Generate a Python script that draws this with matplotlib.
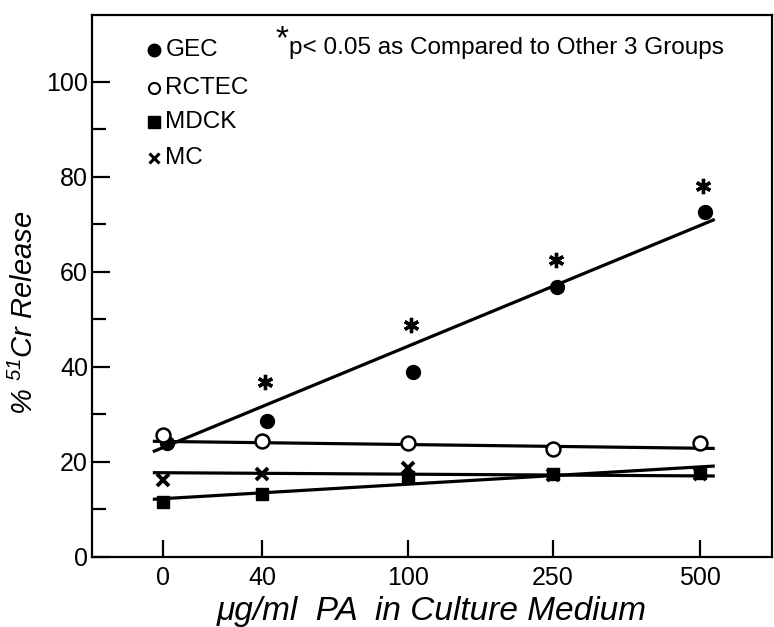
import numpy as np
import matplotlib
matplotlib.use("Agg")
import matplotlib.pyplot as plt

plt.rcParams['font.family'] = ['Liberation Sans', 'DejaVu Sans']
plt.rcParams['mathtext.fontset'] = 'custom'
plt.rcParams['mathtext.it'] = 'Liberation Sans:italic'
plt.rcParams['mathtext.rm'] = 'Liberation Sans:italic'

# doses (ug/ml PA) and measured % 51Cr release
doses = ["0", "40", "100", "250", "500"]
gec = [24.0, 28.6, 38.8, 56.8, 72.6]
rctec = [25.7, 24.4, 23.9, 22.6, 23.9]
mdck = [11.6, 13.3, 16.8, 17.5, 17.7]
mc = [16.2, 17.4, 18.6, 17.2, 17.5]

# significance stars (dose index, height)
star_idx = [1, 2, 3, 4]
star_y = [36.8, 48.8, 62.5, 78.0]

# regression line values at left / right ends
gec_fit = [22.1, 71.0]
rctec_fit = [24.3, 22.8]
mdck_fit = [12.1, 19.1]
mc_fit = [17.7, 17.0]

# axis layout: where each dose sits along x
xpos = np.array([0, 0.68, 1.68, 2.67, 3.68])
line_x = [-0.07, 3.78]

fig = plt.figure(figsize=(7.74, 6.27), dpi=100)
ax = fig.add_axes([0.119, 0.112, 0.878, 0.864])

lw = 2.3
for fit in [gec_fit, rctec_fit, mdck_fit, mc_fit]:
    ax.plot(line_x, fit, color='black', lw=lw, solid_capstyle='butt', zorder=2)

ax.plot(xpos + 0.03, gec, 'o', color='black', ms=10, zorder=3)
ax.plot(xpos, mdck, 's', color='black', ms=9, zorder=3)
ax.plot(xpos, mc, 'x', color='black', ms=9, mew=2.8, zorder=4)
ax.plot(xpos, rctec, 'o', mfc='white', mec='black', mew=1.8, ms=10, zorder=5)

ax.plot(xpos[star_idx] + 0.02, star_y, marker=(6, 2, 0), ls='none',
        color='black', ms=11, mew=2.4, zorder=3)

ax.set_xlim(-0.486, 4.17)
ax.set_ylim(0, 114)
ax.set_xticks(xpos)
ax.set_xticklabels(doses)
ax.set_yticks([0, 20, 40, 60, 80, 100])
ax.set_yticks([10, 30, 50, 70, 90], minor=True)

ax.tick_params(axis='x', direction='in', length=12, width=1.6, labelsize=18, pad=7)
ax.tick_params(axis='y', direction='in', length=13, width=1.6, labelsize=18, pad=3)
ax.tick_params(axis='y', which='minor', direction='in', length=10, width=1.6)
for s in ax.spines.values():
    s.set_linewidth(1.6)

ax.set_xlabel("μg/ml  PA  in Culture Medium", fontsize=24, style='italic', labelpad=4)
ax.set_ylabel("% $^{51}$Cr Release", fontsize=21, style='italic')
ax.yaxis.set_label_coords(-0.078, 0.45)

# hand drawn key
key = [("GEC", dict(marker='o', color='black', ms=9)),
       ("RCTEC", dict(marker='o', mfc='white', mec='black', mew=1.5, ms=8)),
       ("MDCK", dict(marker='s', color='black', ms=8)),
       ("MC", dict(marker='x', color='black', ms=7, mew=2.2))]
key_y = [0.935, 0.865, 0.803, 0.737]
for (name, st), ky in zip(key, key_y):
    ax.plot([0.091], [ky], transform=ax.transAxes, ls='none', clip_on=False, **st)
    ax.text(0.108, ky, name, transform=ax.transAxes, fontsize=17.5, va='center')

ax.text(0.27, 0.955, "*", transform=ax.transAxes, fontsize=24, va='center')
ax.text(0.29, 0.94, "p< 0.05 as Compared to Other 3 Groups", transform=ax.transAxes,
        fontsize=17.5, va='center')

fig.savefig("out.png", dpi=100)
